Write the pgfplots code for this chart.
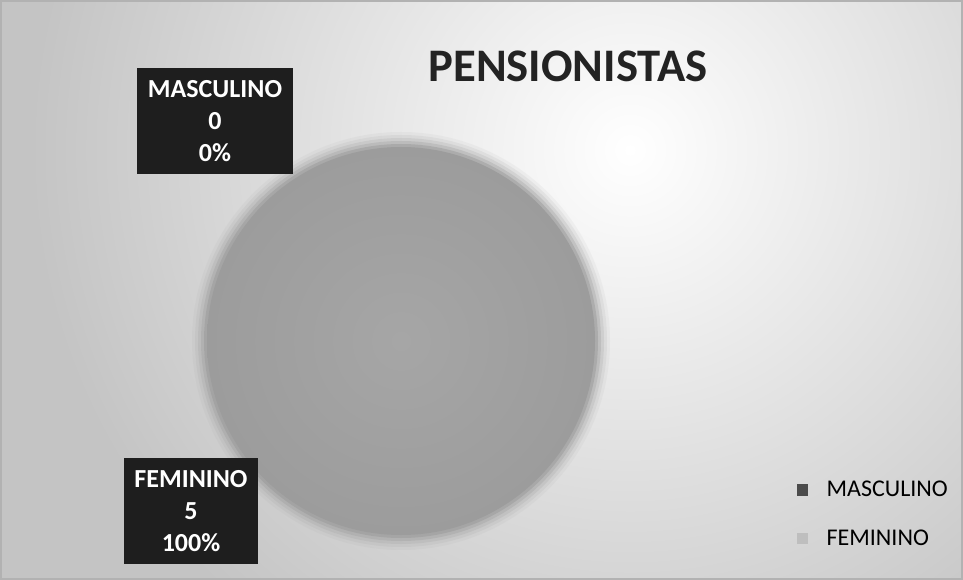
\documentclass[border=0pt]{standalone}
\usepackage{pgfplots}
\pgfplotsset{compat=1.18}
\usepackage{pgfplotstable}
\usepackage{fontspec}
\setmainfont{Carlito}
\definecolor{bgedge}{RGB}{196,196,196}
\definecolor{piefill}{RGB}{166,166,166}
\definecolor{pieedge}{RGB}{150,150,150}
\definecolor{mascol}{RGB}{75,75,75}
\definecolor{femcol}{RGB}{190,190,190}
\definecolor{boxcol}{RGB}{30,30,30}
\definecolor{titlecol}{RGB}{35,35,35}
\pgfplotstableread{
label value
MASCULINO 0
FEMININO 5
}\piedata
\begin{document}
\pgfplotstablegetelem{1}{value}\of\piedata \global\let\femval\pgfplotsretval
\pgfplotstablegetelem{0}{value}\of\piedata \global\let\masval\pgfplotsretval
\begin{tikzpicture}
\begin{axis}[
  scale only axis, width=722.25pt, height=435pt,
  xmin=0, xmax=963, ymin=0, ymax=580, y dir=reverse,
  hide axis, clip=false,
  legend cell align=left,
  legend style={at={(0.823,0.18)}, anchor=north west, draw=none, fill=none,
    font=\fontsize{18}{21}\selectfont, row sep=19pt,
    /tikz/every odd column/.append style={column sep=12pt}},
  legend image code/.code={\fill[#1] (0pt,-4pt) rectangle (8pt,4pt);},
]
% background
\begin{scope}
\clip (axis cs:0,0) rectangle (axis cs:963,580);
\fill[bgedge] (axis cs:0,0) rectangle (axis cs:963,580);
\shade[inner color=white, outer color=bgedge] (axis cs:630,150) circle[radius=600];
\end{scope}
\draw[gray!60, line width=1pt] (axis cs:1,1) rectangle (axis cs:962,579);
% pie (FEMININO = 5 of 5 -> full circle; MASCULINO = 0 -> empty slice)
\fill[pieedge, opacity=0.08] (axis cs:401,341) circle[radius=209];
\fill[pieedge, opacity=0.12] (axis cs:401,341) circle[radius=206];
\fill[pieedge, opacity=0.18] (axis cs:401,341) circle[radius=203];
\fill[pieedge, opacity=0.28] (axis cs:401,341) circle[radius=200];
\fill[pieedge, opacity=0.45] (axis cs:401,341) circle[radius=197];
\shade[inner color=piefill, outer color=piefill!94!black] (axis cs:401,341) circle[radius=194];
% title
\node[font=\bfseries\fontsize{35}{40}\selectfont, text=titlecol] at (axis cs:568,66) {PENSIONISTAS};
% data labels
\node[fill=boxcol, text=white, font=\bfseries\fontsize{19.5}{24}\selectfont, align=center,
  minimum width=117pt, minimum height=80pt, inner sep=0pt] at (axis cs:215,121)
  {MASCULINO\\ \masval\\ 0\%};
\node[fill=boxcol, text=white, font=\bfseries\fontsize{19.5}{24}\selectfont, align=center,
  minimum width=100pt, minimum height=79pt, inner sep=0pt] at (axis cs:191,511)
  {FEMININO\\ \femval\\ 100\%};
% legend
\addlegendimage{mascol}
\addlegendentry{MASCULINO}
\addlegendimage{femcol}
\addlegendentry{FEMININO}
\end{axis}
\end{tikzpicture}
\end{document}
